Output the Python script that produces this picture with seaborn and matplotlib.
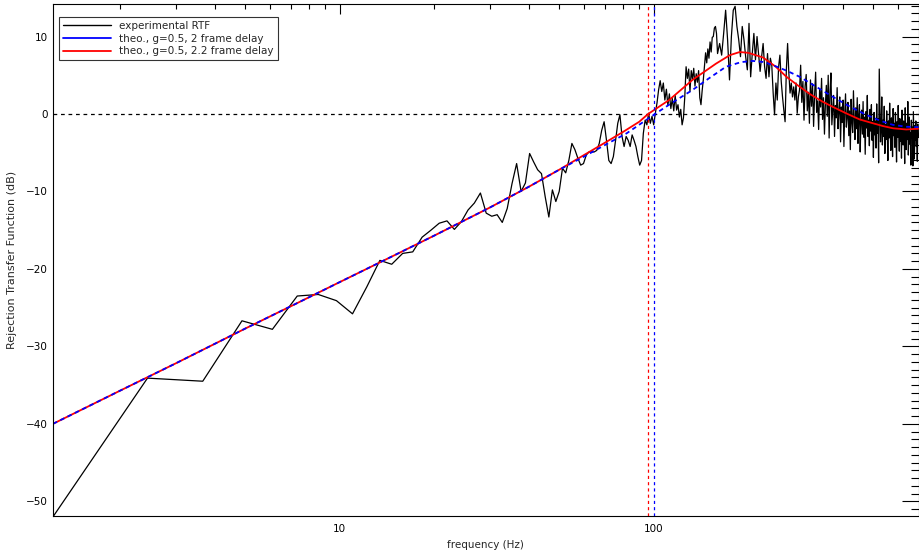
"""
Rejection transfer function: measured RTF against two theoretical curves
"""

import numpy as np
import pandas as pd
import matplotlib
matplotlib.use("Agg")
import matplotlib.pyplot as plt
import seaborn as sns
from matplotlib.lines import Line2D
from matplotlib.ticker import LogLocator, MultipleLocator, NullFormatter

# ---- data ----
FREQ_STEP = 1.22  # spectral bin spacing (Hz)

# experimental RTF (dB), every bin from 1.22 Hz up to 100 Hz
rtf_db_low = [-52.0, -34.1, -34.5, -26.7, -27.8, -23.5, -23.3, -24.1, -25.8, -22.3,
              -18.9, -19.4, -18.0, -17.8, -15.9, -15.0, -14.1, -13.8, -14.9, -13.9,
              -12.4, -11.5, -10.2, -12.8, -13.2, -13.0, -14.0, -12.2, -9.0, -6.4,
              -10.0, -8.9, -5.1, -6.2, -7.2, -7.7, -10.7, -13.3, -9.8, -11.3,
              -10.0, -7.0, -7.6, -6.0, -3.8, -4.6, -5.7, -6.6, -6.4, -5.3,
              -4.9, -4.9, -4.9, -4.7, -3.8, -2.1, -1.0, -3.4, -6.0, -6.4,
              -5.5, -3.4, -1.2, -0.1, -2.9, -4.2, -2.9, -3.4, -4.2, -2.7,
              -3.4, -4.2, -5.5, -6.6, -6.0, -2.5, -0.8, -1.4, 0.1, -1.2,
              -0.3, -1.4]
# every bin from 101.3 Hz to 160 Hz
rtf_db_mid = [0.1, 1.4, 3.1, 4.3, 2.9, 4.0, 1.8, 3.2, 1.1, 2.6,
              0.7, 2.0, 0.4, 2.4, 0.5, 1.2, -0.4, 0.6, -1.4, -0.5,
              2.2, 6.1, 4.6, 5.8, 2.9, 5.6, 4.5, 5.9, 3.6, 5.2,
              4.1, 5.6, 2.1, 1.2, 3.0, 4.4, 6.1, 7.9, 6.6, 8.4,
              7.2, 9.3, 8.0, 9.9, 10.0, 11.1, 11.3, 10.4, 7.8]
# every 2nd bin from 162.3 Hz to 292 Hz
rtf_db_peak = [9.1, 7.6, 10.4, 13.4, 9.6, 4.4, 10.0, 13.4, 13.9, 11.3,
               9.6, 7.4, 11.3, 9.6, 7.4, 5.7, 11.7, 4.8, 7.8, 10.4,
               7.0, 10.0, 7.8, 5.5, 7.4, 9.1, 6.1, 4.6, 7.8, 4.8,
               7.2, 6.3, 2.7, -0.1, 4.0, 1.8, 6.1, 7.6, 4.2, 2.2,
               0.5, -1.0, 5.7, 9.1, 5.3, 2.7, 4.0, 2.2, 3.5, 1.8,
               4.0, 0.1, 2.2, 3.1]
# every 2nd bin from 294 Hz to 697 Hz
rtf_db_high = [6.3, 1.5, 4.2, -0.8, 3.6, 5.1, 0.4, 2.8, -1.2, 4.4,
               1.0, 3.9, -1.6, 2.5, 5.4, 0.2, 1.7, -2.0, 3.2, 0.9,
               4.6, -0.7, 2.1, -2.6, 1.3, 3.7, -0.3, 5.0, -3.1, 2.9,
               5.3, -1.4, 0.6, 2.4, -2.9, 1.1, -0.5, 3.4, -1.9, 0.3,
               2.2, -3.6, 0.9, -1.1, 1.8, -4.2, 0.1, 2.6, -1.7, -0.4,
               1.5, -2.8, 0.4, -4.6, 1.9, -1.0, -2.4, 3.0, -0.7, -3.3,
               0.8, -1.9, 2.1, -3.8, -0.2, 1.2, -4.9, -1.1, 0.5, -2.6,
               1.6, -3.0, -0.4, -5.2, 0.3, -1.8, 2.4, -2.9, -0.8, -4.1,
               0.6, -2.2, 1.2, -3.4, -1.0, -5.6, 0.2, -2.7, -0.9, -4.4,
               1.3, -2.5, -0.6, -6.3, 5.8, 0.9, -3.6, -2.0, 2.2, -4.0,
               -0.8, -2.9, 1.0, -5.1, -1.4, -3.3, 0.4, -2.2, -6.0, -0.9,
               -3.1, 1.4, -2.4, -4.7, -0.5, -1.9, -5.5, 0.7, -2.8, -1.2,
               -4.3, 0.2, -2.6, -6.2, -1.0, -3.0, 1.1, -2.3, -4.8, -0.6,
               -3.5, -1.4, -5.7, 0.5, -2.7, -4.0, -0.9, -2.1, -6.4, 0.8,
               -2.9, -4.6, -1.2, -3.3, 1.6, -5.3, -2.0, -0.4, -3.9, -2.4,
               -6.6, -0.8, -3.1, -1.7, -6.7, 0.3, -2.6, -5.8, -1.5, -3.4,
               -0.9, -4.2, -2.0, -6.1, -1.3, -2.9]

# theoretical curves: common low-frequency part (both overlap)
theo_low_freq = [1.22, 2.0, 3.0, 5.0, 7.0, 10.0, 15.0, 20.0, 30.0, 40.0, 50.0]
theo_low_db = [-40.0, -35.7, -32.2, -27.7, -24.8, -21.7, -18.2, -15.7, -12.1, -9.4, -7.2]

# g=0.5, 2.2 frame delay
red_freq = [60, 70, 80, 90, 96, 112, 133, 158, 175, 188, 200, 223, 245, 265,
            290, 314, 345, 373, 410, 453, 500, 537, 580, 638, 698]
red_db = [-5.3, -3.7, -2.3, -1.0, 0.0, 1.8, 4.4, 6.5, 7.6, 8.0, 7.9, 7.3, 6.1, 4.8,
          3.6, 2.6, 1.6, 0.9, 0.1, -0.7, -1.2, -1.55, -1.85, -2.0, -1.9]

# g=0.5, 2 frame delay
blue_freq = [60, 70, 82, 101, 115, 133, 150, 170, 190, 207, 225, 240, 265, 292,
             330, 373, 420, 475, 530, 578, 640, 698]
blue_db = [-5.5, -4.0, -2.5, 0.0, 1.5, 3.1, 4.6, 6.1, 6.7, 6.85, 6.7, 6.3, 5.6, 4.8,
           3.5, 2.2, 1.0, -0.1, -0.9, -1.4, -1.65, -1.7]

# 0 dB crossing frequencies of the two models
bw_red = 96.0
bw_blue = 100.0

# ---- build tables ----
segments = [(1, 1, rtf_db_low), (83, 1, rtf_db_mid), (133, 2, rtf_db_peak), (241, 2, rtf_db_high)]
freq_parts, db_parts = [], []
for first_bin, bin_step, values in segments:
    bins = first_bin + bin_step * np.arange(len(values))
    freq_parts.append(bins * FREQ_STEP)
    db_parts.append(np.asarray(values))
exp_df = pd.DataFrame({"freq": np.concatenate(freq_parts), "db": np.concatenate(db_parts)})

red_df = pd.DataFrame({"freq": theo_low_freq + red_freq, "db": theo_low_db + red_db})
blue_df = pd.DataFrame({"freq": theo_low_freq + blue_freq, "db": theo_low_db + blue_db})

# ---- plot ----
sns.set_style("white")
plt.rcParams["font.family"] = ["DejaVu Sans"]
plt.rcParams["axes.linewidth"] = 0.8

fig = plt.figure(figsize=(9.19, 5.54), dpi=100)
ax = fig.add_axes([53 / 919, 38 / 554, 865.5 / 919, 512 / 554])

sns.lineplot(data=exp_df, x="freq", y="db", color="black", linewidth=0.9,
             estimator=None, ax=ax)
sns.lineplot(data=red_df, x="freq", y="db", color="#ff0000", linewidth=1.3,
             estimator=None, ax=ax)
sns.lineplot(data=blue_df, x="freq", y="db", color="#0000ff", linewidth=1.3,
             linestyle=(0, (2.5, 2)), estimator=None, ax=ax)

ax.axhline(0, color="black", linewidth=0.9, linestyle=(0, (3, 3)), zorder=1)
ax.axvline(bw_red, color="#ff0000", linewidth=0.9, linestyle=(0, (2.5, 2.5)))
ax.axvline(bw_blue, color="#0000ff", linewidth=0.9, linestyle=(0, (2.5, 2.5)))

ax.set_xscale("log")
ax.set_xlim(1.22, 698)
ax.set_ylim(-51.9, 14.2)

ax.set_xticks([10, 100])
ax.set_xticklabels(["10", "100"])
ax.xaxis.set_minor_locator(LogLocator(base=10, subs=np.arange(2, 10)))
ax.xaxis.set_minor_formatter(NullFormatter())
ax.yaxis.set_major_locator(MultipleLocator(10))
ax.yaxis.set_minor_locator(MultipleLocator(1))

ax.tick_params(which="both", direction="in", top=True, right=True,
               width=0.8, colors="black", labelsize=7.5)
ax.tick_params(axis="x", which="major", length=7, pad=6)
ax.tick_params(axis="x", which="minor", length=3.5)
ax.tick_params(axis="y", which="major", length=12, pad=4)
ax.tick_params(axis="y", which="minor", length=6)

for side in ax.spines.values():
    side.set_color("black")
    side.set_linewidth(0.8)

ax.set_xlabel("frequency (Hz)", fontsize=7.5, labelpad=4)
ax.set_ylabel("Rejection Transfer Function (dB)", fontsize=8, labelpad=6)

handles = [Line2D([], [], color="black", linewidth=1.0),
           Line2D([], [], color="#0000ff", linewidth=1.3),
           Line2D([], [], color="#ff0000", linewidth=1.3)]
labels = ["experimental RTF", "theo., g=0.5, 2 frame delay", "theo., g=0.5, 2.2 frame delay"]
leg = ax.legend(handles, labels, loc="upper left", bbox_to_anchor=(0.007, 0.975),
                borderaxespad=0, fontsize=7.5, frameon=True, fancybox=False,
                handlelength=4.6, handletextpad=0.8, labelspacing=0.25,
                borderpad=0.4)
leg.get_frame().set_edgecolor("black")
leg.get_frame().set_linewidth(0.8)

fig.savefig("out.png", dpi=100)
